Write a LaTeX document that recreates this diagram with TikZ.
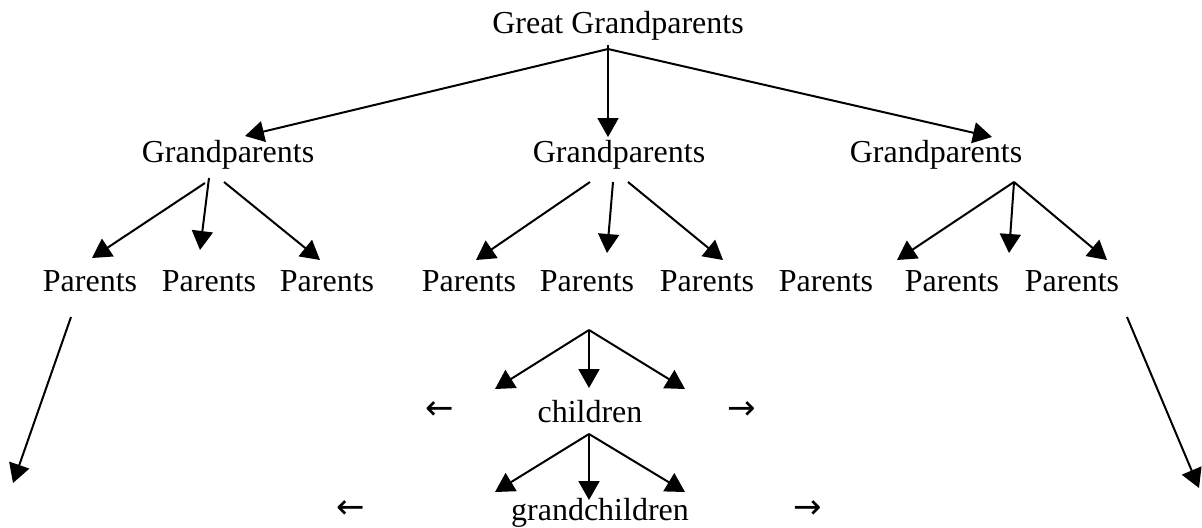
\documentclass[tikz,border=0pt]{standalone}
\usepackage{fontspec}
\setmainfont{Liberation Serif}
\newfontfamily\arrowfont{DejaVu Sans}
\usetikzlibrary{arrows.meta}
\tikzset{
  lbl/.style={inner sep=0pt, anchor=base, font=\fontsize{16}{19}\selectfont},
  sidearrow/.style={inner sep=0pt, anchor=center, font=\arrowfont\fontsize{17}{19}\selectfont},
  conn/.style={line width=1pt, -{Triangle[length=9.5pt,width=10.5pt]}}
}
\begin{document}
\begin{tikzpicture}[x=0.5pt,y=-0.5pt]
\useasboundingbox (0,0) rectangle (1202,527);
% labels
\node[lbl] (gg) at (618,33) {Great Grandparents};
\node[lbl] (gp1) at (228,162) {Grandparents};
\node[lbl] (gp2) at (619,162) {Grandparents};
\node[lbl] (gp3) at (936,162) {Grandparents};
\node[lbl] (p1) at (90,291) {Parents};
\node[lbl] (p2) at (209,291) {Parents};
\node[lbl] (p3) at (327,291) {Parents};
\node[lbl] (p4) at (469,291) {Parents};
\node[lbl] (p5) at (587,291) {Parents};
\node[lbl] (p6) at (707,291) {Parents};
\node[lbl] (p7) at (826,291) {Parents};
\node[lbl] (p8) at (952,291) {Parents};
\node[lbl] (p9) at (1072,291) {Parents};
\node[lbl] (ch) at (590,422) {children};
\node[lbl] (gc) at (600,520) {grandchildren};
\node[sidearrow] (chl) at (440,411) {←};
\node[sidearrow] (chr) at (742,411) {→};
\node[sidearrow] (gcl) at (351,510) {←};
\node[sidearrow] (gcr) at (808,510) {→};
% connector coordinates
\coordinate (r0) at (608,49);
\coordinate (r0top) at (608,45);
\coordinate (t1) at (245,136);
\coordinate (t2) at (608,137);
\coordinate (t3) at (992,137);
\coordinate (a1s) at (205,183); \coordinate (a1e) at (92,258);
\coordinate (a2s) at (209,178); \coordinate (a2e) at (200,250);
\coordinate (a3s) at (224,182); \coordinate (a3e) at (320,260);
\coordinate (b1s) at (590,182); \coordinate (b1e) at (476,260);
\coordinate (b2s) at (613,182); \coordinate (b2e) at (607,253);
\coordinate (b3s) at (628,182); \coordinate (b3e) at (723,260);
\coordinate (c0) at (1014,182);
\coordinate (c1e) at (897,260);
\coordinate (c2e) at (1009,253);
\coordinate (c3e) at (1107,260);
\coordinate (ls) at (71,317); \coordinate (le) at (13,483);
\coordinate (rs) at (1127,317); \coordinate (re) at (1199,488);
\coordinate (k0) at (589,330);
\coordinate (k1) at (495,389); \coordinate (k2) at (589,388); \coordinate (k3) at (685,389);
\coordinate (g0) at (589,434);
\coordinate (g1) at (495,492); \coordinate (g2) at (589,500); \coordinate (g3) at (685,492);
% connectors
\draw[conn] (r0) -- (t1);
\draw[conn] (r0top) -- (t2);
\draw[conn] (r0) -- (t3);
\draw[conn] (a1s) -- (a1e);
\draw[conn] (a2s) -- (a2e);
\draw[conn] (a3s) -- (a3e);
\draw[conn] (b1s) -- (b1e);
\draw[conn] (b2s) -- (b2e);
\draw[conn] (b3s) -- (b3e);
\draw[conn] (c0) -- (c1e);
\draw[conn] (c0) -- (c2e);
\draw[conn] (c0) -- (c3e);
\draw[conn] (ls) -- (le);
\draw[conn] (rs) -- (re);
\draw[conn] (k0) -- (k1);
\draw[conn] (k0) -- (k2);
\draw[conn] (k0) -- (k3);
\draw[conn] (g0) -- (g1);
\draw[conn] (g0) -- (g2);
\draw[conn] (g0) -- (g3);
\end{tikzpicture}
\end{document}
